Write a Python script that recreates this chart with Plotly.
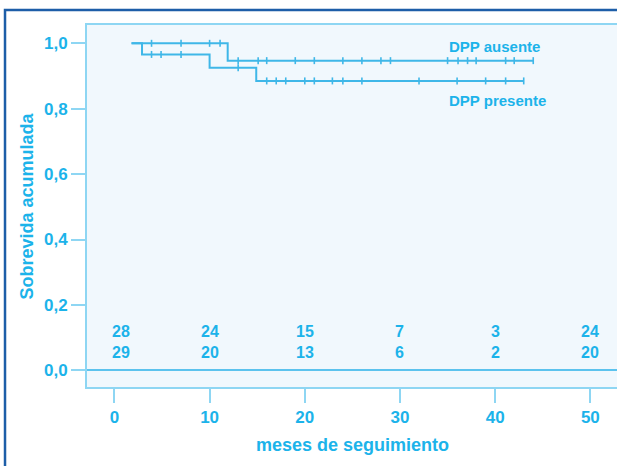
import numpy as np
import plotly.graph_objects as go

# Kaplan-Meier step curves (time in months, cumulative survival)
aus_t = [1.8, 11.9, 44.0]
aus_s = [1.0, 0.947, 0.947]
pres_t = [1.8, 2.9, 10.0, 14.9, 43.0]
pres_s = [1.0, 0.966, 0.925, 0.885, 0.885]

# censored observations
aus_cens = [3.9, 7.0, 10.0, 11.1, 13.0, 15.1, 16.0, 19.0, 21.0, 24.0, 26.0,
            28.0, 29.0, 35.0, 36.1, 37.1, 38.0, 41.1, 42.0, 44.0]
pres_cens = [3.9, 4.9, 7.0, 13.0, 16.0, 17.0, 18.0, 20.0, 21.0, 22.9, 24.0,
             26.0, 32.0, 36.0, 39.0, 41.1, 43.0]

# numbers at risk
risk_times = [0, 10, 20, 30, 40, 50]
risk_aus = [28, 24, 15, 7, 3, 24]
risk_pres = [29, 20, 13, 6, 2, 20]

y_ticks = [0.0, 0.2, 0.4, 0.6, 0.8, 1.0]
y_ticklabels = ["0,0", "0,2", "0,4", "0,6", "0,8", "1,0"]
x_ticks = [0, 10, 20, 30, 40, 50]

TXT = "#1cb3ea"
LINE = "#3fb7e8"
AXIS = "#8ed6f3"
FONT = "Liberation Sans, Arial, sans-serif"


def step_value(times, surv, t):
    idx = np.searchsorted(np.asarray(times), t, side="right") - 1
    return np.asarray(surv)[np.clip(idx, 0, len(surv) - 1)]


fig = go.Figure()
for t, s, cens, name in [(aus_t, aus_s, aus_cens, "DPP ausente"),
                         (pres_t, pres_s, pres_cens, "DPP presente")]:
    fig.add_trace(go.Scatter(x=t, y=s, mode="lines", line=dict(color=LINE, width=2, shape="hv"),
                             name=name, showlegend=False, hoverinfo="skip"))
    fig.add_trace(go.Scatter(x=cens, y=step_value(t, s, cens), mode="markers",
                             marker=dict(symbol="line-ns-open", size=5, color=LINE,
                                         line=dict(color=LINE, width=1.6)),
                             showlegend=False, hoverinfo="skip"))

# curve labels
fig.add_annotation(x=44.9, y=0.989, text="DPP ausente", showarrow=False,
                   xanchor="right", yanchor="middle",
                   font=dict(family=FONT, size=15, color=TXT, weight="bold"))
fig.add_annotation(x=45.6, y=0.826, text="DPP presente", showarrow=False,
                   xanchor="right", yanchor="middle",
                   font=dict(family=FONT, size=15, color=TXT, weight="bold"))

# numbers-at-risk rows (first column sits slightly right of the 0 tick)
for i, (xt, a, p) in enumerate(zip(risk_times, risk_aus, risk_pres)):
    for val, yy in [(a, 0.120), (p, 0.054)]:
        fig.add_annotation(x=xt, y=yy, text=str(val), showarrow=False,
                           xanchor="center", yanchor="middle", xshift=7 if i == 0 else 0,
                           font=dict(family=FONT, size=16, color=TXT, weight="bold"))

# axis titles
fig.add_annotation(xref="paper", yref="paper", x=0.5, y=-0.160, text="meses de seguimiento",
                   showarrow=False, xanchor="center", yanchor="middle",
                   font=dict(family=FONT, size=18, color=TXT, weight="bold"))
fig.add_annotation(xref="paper", yref="paper", x=-0.114, y=0.5, text="Sobrevida acumulada",
                   showarrow=False, textangle=-90, xanchor="center", yanchor="middle",
                   font=dict(family=FONT, size=18, color=TXT, weight="bold"))

# outer frame
fig.add_shape(type="rect", xref="paper", yref="paper", x0=-0.1547, x1=1.05, y0=-0.4,
              y1=1.0414, line=dict(color="#1d5ea8", width=2.5), fillcolor="rgba(0,0,0,0)",
              layer="below")

fig.update_layout(
    width=617, height=466,
    margin=dict(l=87, r=0, t=25, b=79),
    paper_bgcolor="white",
    plot_bgcolor="#f1f8fd",
    font=dict(family=FONT, color=TXT),
    xaxis=dict(range=[-2.88, 52.8], tickvals=x_ticks, ticks="outside", ticklen=14,
               tickwidth=2, tickcolor=AXIS, showline=True, linecolor=AXIS, linewidth=2,
               mirror=True, showgrid=False, zeroline=False,
               tickfont=dict(family=FONT, size=17, color=TXT, weight="bold")),
    yaxis=dict(range=[-0.051, 1.056], tickvals=y_ticks, ticktext=y_ticklabels,
               ticks="outside", ticklen=14, tickwidth=2, tickcolor=AXIS, showline=True,
               linecolor=AXIS, linewidth=2, showgrid=False, zeroline=True,
               zerolinecolor="#5cc3ee", zerolinewidth=1.5,
               tickfont=dict(family=FONT, size=17, color=TXT, weight="bold")),
)

fig.write_html("out.html")
